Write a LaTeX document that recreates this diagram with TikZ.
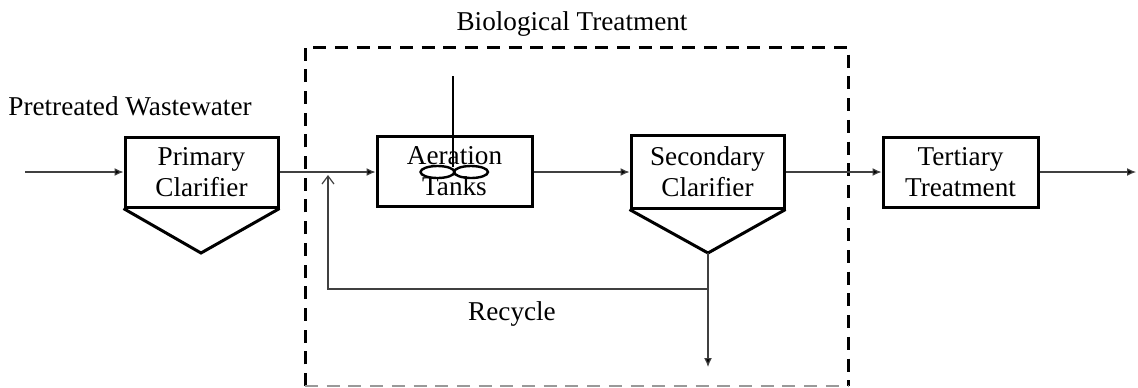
\documentclass[tikz,border=0pt]{standalone}
\usepackage{fontspec}
\setmainfont{Liberation Serif}
\usetikzlibrary{arrows.meta,calc,shapes.geometric}
\begin{document}
\begin{tikzpicture}[x=0.5pt,y=-0.5pt,
  every node/.style={font=\fontsize{13.6pt}{15.5pt}\selectfont},
  unit/.style={draw, line width=1.5pt, align=center, inner sep=0pt, minimum height=35pt},
  hopper/.style={line width=1.5pt, line join=miter},
  flow/.style={draw=black!75, line width=0.6pt, -{Latex[length=4.5pt,width=4pt,fill=black]}},
  openarrow/.style={draw=black!75, line width=0.6pt, -{Straight Barb[length=4pt,width=6pt]}},
  zone/.style={draw, line width=1.5pt, dash pattern=on 6.5pt off 4.35pt},
  paddle/.style={draw, ellipse, line width=1.2pt, minimum width=17pt, minimum height=6pt, inner sep=0pt},
  label/.style={anchor=base}]
\useasboundingbox (0,0) rectangle (1138,387);
% dashed zone
\draw[zone] (305,386) -- (305,47) -- (848,47) -- (848,386);
\draw[zone, draw=black!40, line width=0.8pt] (305,386) -- (848,386);
\node[label] (bio) at (572,30) {Biological Treatment};
% units
\node[unit, minimum width=76.5pt] (pc) at (201.5,172) {Primary\\Clarifier};
\node[unit, minimum width=77.5pt] (at) at (454.5,171.5) {Aeration\\Tanks};
\node[unit, minimum width=76.5pt, minimum height=36.5pt] (sc) at (707.5,171.5) {Secondary\\Clarifier};
\node[unit, minimum width=77.5pt] (tt) at (960.5,172) {Tertiary\\Treatment};
% hoppers
\coordinate (pcv) at (201,253);
\coordinate (scv) at (708,253);
\draw[hopper] (pc.south west) -- (pcv) -- (pc.south east);
\draw[hopper] (sc.south west) -- (scv) -- (sc.south east);
% labels
\node[label] (pw) at (130,115) {Pretreated Wastewater};
\node[label] (rc) at (512,320) {Recycle};
% aerator
\coordinate (shaft) at (453,76);
\coordinate (hub) at (453,167);
\draw[line width=0.6pt] (shaft) -- (hub);
\node[paddle] (e1) at (437.5,172) {};
\node[paddle] (e2) at (471,172) {};
% main flow
\coordinate (in) at (25,172);
\coordinate (out) at (1136,172);
\draw[flow] (in) -- (pc.west);
\draw[flow] (pc.east) -- (at.west |- pc.east);
\draw[flow] (at.east |- pc.east) -- (sc.west |- pc.east);
\draw[flow] (sc.east |- pc.east) -- (tt.west);
\draw[flow] (tt.east) -- (out);
% underflow and recycle
\coordinate (drain) at (708,367);
\coordinate (split) at (708,289);
\coordinate (ret) at (328,175);
\draw[flow] (scv) -- (drain);
\draw[openarrow] (split) -| (ret);
\end{tikzpicture}
\end{document}
